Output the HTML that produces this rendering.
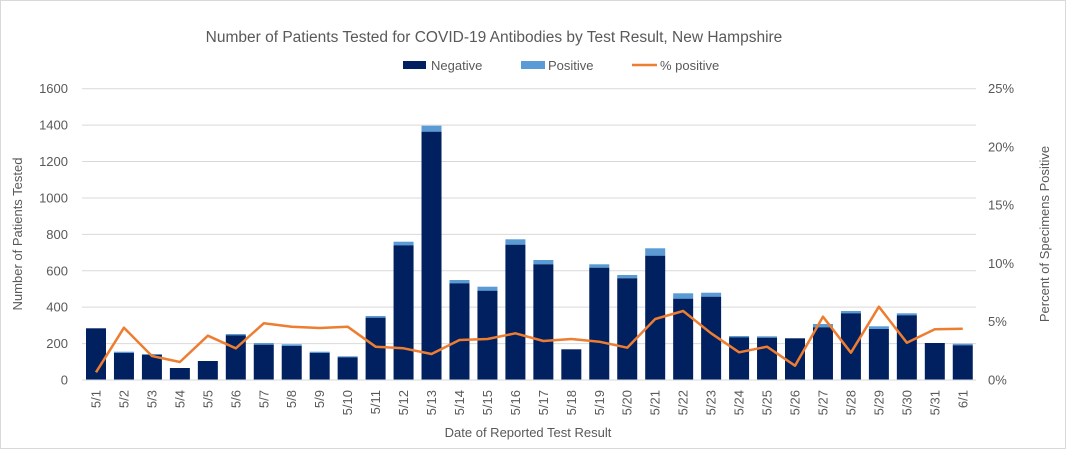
<!DOCTYPE html>
<html><head><meta charset="utf-8"><style>
body{margin:0;background:#fff}
svg{display:block;font-family:"Liberation Sans",Calibri,sans-serif}
</style></head><body>
<svg id="c" width="1066" height="449" viewBox="0 0 1066 449">
<rect x="0.5" y="0.5" width="1065" height="448" fill="#fff" stroke="#d9d9d9"/>
<text x="494" y="42" text-anchor="middle" font-size="15.5" fill="#595959">Number of Patients Tested for COVID-19 Antibodies by Test Result, New Hampshire</text>
<rect x="403" y="61" width="23" height="8" fill="#002060"/>
<text x="431" y="70" font-size="13" fill="#595959">Negative</text>
<rect x="521" y="61" width="24" height="8" fill="#5b9bd5"/>
<text x="548" y="70" font-size="13" fill="#595959">Positive</text>
<line x1="632" y1="65" x2="657" y2="65" stroke="#ed7d31" stroke-width="2.5"/>
<text x="660" y="70" font-size="13" fill="#595959">% positive</text>
<text transform="translate(22,234) rotate(-90)" text-anchor="middle" font-size="13" fill="#595959">Number of Patients Tested</text>
<text transform="translate(1049,234) rotate(-90)" text-anchor="middle" font-size="13" fill="#595959">Percent of Specimens Positive</text>
<text x="528" y="437" text-anchor="middle" font-size="13" fill="#595959">Date of Reported Test Result</text>
<g id="g"></g>
</svg>
<script>
(function(){
var g=document.getElementById('g'),h='';
var y0=380,yt=88.7,L=82,R=976;
for(var i=0;i<=8;i++){var y=y0-(y0-yt)*i/8;h+='<line x1="'+L+'" y1="'+y+'" x2="'+R+'" y2="'+y+'" stroke="#d9d9d9" stroke-width="1"/>';
h+='<text x="68" y="'+(y+4.5)+'" text-anchor="end" font-size="13" fill="#595959">'+(i*200)+'</text>';}
for(var i=0;i<=5;i++){var y=y0-(y0-yt)*i/5;h+='<text x="988" y="'+(y+4.5)+'" font-size="13" fill="#595959">'+(i*5)+'%</text>';}
var T=[328.3,351.7,354,368,361,334,343,344.3,351.7,356.3,316,241.7,125.7,280,286.7,239.3,260,349.3,264.3,275,248.3,293.3,292.7,336,336.3,338.3,324,311,326.3,313.3,343,343.7];
var N=[328.3,353,355,368,361,335.3,344.7,346,353,357.3,317.7,245.3,131.7,283.3,290.7,244.7,264.3,349.3,267.7,278.3,255.7,298.7,296.7,337.3,337.7,338.3,327.3,313.3,329,315.3,343,345.3];
var P=[372.3,327.7,356,362,335.7,348.3,323.3,326.7,328,326.7,346.7,348.3,354,340,339,333.3,341,339,341.7,347.7,319,311,333.3,352.3,346.7,365.7,316.7,352.7,306.7,342.7,329.3,328.7];
var lab=['5/1','5/2','5/3','5/4','5/5','5/6','5/7','5/8','5/9','5/10','5/11','5/12','5/13','5/14','5/15','5/16','5/17','5/18','5/19','5/20','5/21','5/22','5/23','5/24','5/25','5/26','5/27','5/28','5/29','5/30','5/31','6/1'];
var pts=[];
for(var i=0;i<32;i++){var cx=96+27.96*i;
h+='<rect x="'+(cx-10)+'" y="'+T[i]+'" width="20" height="'+(N[i]-T[i])+'" fill="#5b9bd5"/>';
h+='<rect x="'+(cx-10)+'" y="'+N[i]+'" width="20" height="'+(y0-N[i])+'" fill="#002060"/>';
h+='<text transform="translate('+(cx+4.5)+',390) rotate(-90)" text-anchor="end" font-size="13" fill="#595959">'+lab[i]+'</text>';
pts.push(cx+','+P[i]);}
h+='<line x1="'+L+'" y1="380" x2="'+R+'" y2="380" stroke="#d9d9d9"/>';
h+='<polyline points="'+pts.join(' ')+'" fill="none" stroke="#ed7d31" stroke-width="2.5" stroke-linejoin="round"/>';
g.innerHTML=h;
})();
</script>
</body></html>
